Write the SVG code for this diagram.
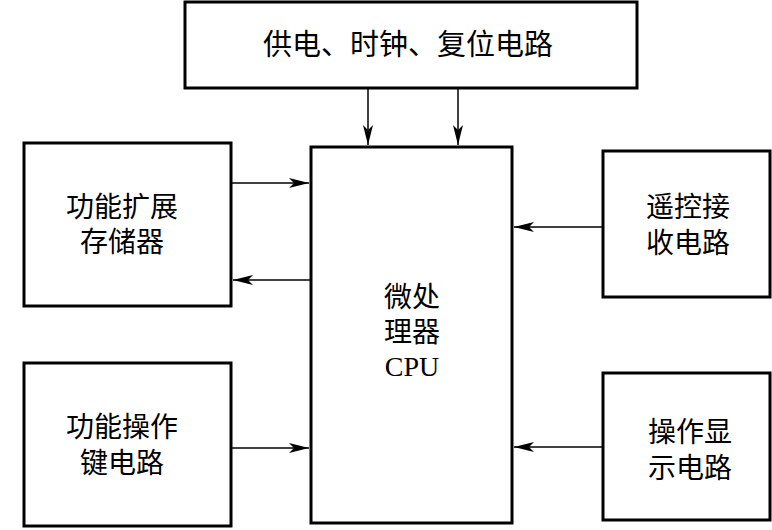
<svg xmlns="http://www.w3.org/2000/svg" width="772" height="530" viewBox="0 0 772 530">
<style>
.box{fill:#fff;stroke:#000;stroke-width:3}
.lbl{font-family:"Liberation Serif","Noto Sans CJK SC",serif;font-size:28px;fill:#000;text-anchor:middle}
.conn{stroke:#000;stroke-width:1.5;fill:none}
</style>
<defs>
<marker id="arr" viewBox="0 0 20 10" refX="20" refY="5" markerWidth="20" markerHeight="10" markerUnits="userSpaceOnUse" orient="auto">
<path d="M0,0 L20,5 L0,10 L5,5 Z" fill="#000"/>
</marker>
</defs>
<rect width="772" height="530" fill="#fff"/>
<g id="power">
<rect class="box" x="185" y="2" width="452" height="86"/>
<text class="lbl" x="408" y="55" style="font-size:29px">供电、时钟、复位电路</text>
</g>
<g id="cpu">
<rect class="box" x="311" y="147" width="201" height="376"/>
<text class="lbl" x="412" y="307">微处</text>
<text class="lbl" x="412" y="342">理器</text>
<text class="lbl" x="412" y="376">CPU</text>
</g>
<g id="memory">
<rect class="box" x="24" y="143" width="207" height="163"/>
<text class="lbl" x="122" y="217">功能扩展</text>
<text class="lbl" x="122" y="252">存储器</text>
</g>
<g id="keys">
<rect class="box" x="24" y="363" width="207" height="163"/>
<text class="lbl" x="122" y="437">功能操作</text>
<text class="lbl" x="122" y="473">键电路</text>
</g>
<g id="remote">
<rect class="box" x="603" y="151" width="167" height="146"/>
<text class="lbl" x="688" y="217">遥控接</text>
<text class="lbl" x="688" y="253">收电路</text>
</g>
<g id="display">
<rect class="box" x="603" y="373" width="167" height="147"/>
<text class="lbl" x="690" y="442">操作显</text>
<text class="lbl" x="690" y="478">示电路</text>
</g>
<g id="connectors">
<line class="conn" x1="368" y1="89" x2="368" y2="145" marker-end="url(#arr)"/>
<line class="conn" x1="458" y1="89" x2="458" y2="145" marker-end="url(#arr)"/>
<line class="conn" x1="232" y1="183" x2="309" y2="183" marker-end="url(#arr)"/>
<line class="conn" x1="310" y1="280" x2="233" y2="280" marker-end="url(#arr)"/>
<line class="conn" x1="232" y1="448" x2="309" y2="448" marker-end="url(#arr)"/>
<line class="conn" x1="602" y1="227" x2="514" y2="227" marker-end="url(#arr)"/>
<line class="conn" x1="602" y1="447" x2="514" y2="447" marker-end="url(#arr)"/>
</g>
</svg>
